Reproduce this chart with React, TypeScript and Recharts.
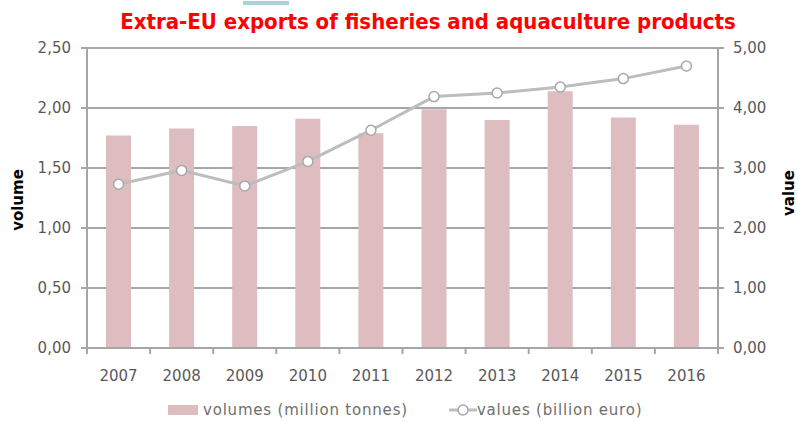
import { ComposedChart, Bar, Line, XAxis, YAxis, CartesianGrid } from 'recharts'

const years = ['2007', '2008', '2009', '2010', '2011', '2012', '2013', '2014', '2015', '2016']
const volumes = [1.77, 1.83, 1.85, 1.91, 1.79, 1.99, 1.9, 2.14, 1.92, 1.86]
const values = [2.73, 2.96, 2.7, 3.11, 3.63, 4.19, 4.25, 4.35, 4.49, 4.7]
const volumeTicks = [0, 0.5, 1, 1.5, 2, 2.5]
const valueTicks = [0, 1, 2, 3, 4, 5]

const data = years.map((year, i) => ({ year, volume: volumes[i], value: values[i] }))

const fmt = (v: number) => v.toFixed(2).replace('.', ',')
const tickFont = { fontSize: 15, fill: '#595959', fontFamily: 'DejaVu Sans' }
const gridGrey = '#a6a6a6'
const barColor = '#ddbdc0'
const lineColor = '#bdbdbd'

// year label plus a tick mark on the left edge of each category band
function YearTick(props: any) {
  const { x, y, payload, index } = props
  const half = payload.offset ?? 0
  return (
    <g>
      <line x1={x - half} y1={y} x2={x - half} y2={y + 6} stroke={gridGrey} strokeWidth={2} />
      {index === years.length - 1 && (
        <line x1={x + half} y1={y} x2={x + half} y2={y + 6} stroke={gridGrey} strokeWidth={2} />
      )}
      <text x={x} y={y + 33} textAnchor="middle" {...tickFont}>{payload.value}</text>
    </g>
  )
}

export default function App() {
  return (
    <div style={{ position: 'absolute', left: 0, top: 0, width: 798, height: 423, background: '#fff', fontFamily: 'DejaVu Sans' }}>
      <div style={{ position: 'absolute', left: 243, top: 1, width: 46, height: 4, background: '#a9d2dc' }} />
      <div
        style={{
          position: 'absolute', top: 9, left: 58, width: 740, textAlign: 'center',
          color: '#ff0000', fontSize: 22, fontWeight: 'bold', fontFamily: 'DejaVu Sans Condensed',
        }}
      >
        Extra-EU exports of fisheries and aquaculture products
      </div>

      <ComposedChart width={798} height={423} data={data} margin={{ top: 48, right: 20, left: 5, bottom: 35 }}>
        <CartesianGrid yAxisId="left" vertical={false} stroke={gridGrey} strokeWidth={2} />
        <XAxis
          dataKey="year" height={40} tickSize={0} tickMargin={0} tickLine={false} interval={0}
          axisLine={{ stroke: gridGrey, strokeWidth: 2 }} tick={<YearTick />}
        />
        <YAxis
          yAxisId="left" width={82} domain={[0, 2.5]} ticks={volumeTicks} tickFormatter={fmt} tick={tickFont} tickMargin={10}
          axisLine={{ stroke: gridGrey, strokeWidth: 2 }} tickLine={{ stroke: gridGrey, strokeWidth: 2 }}
        />
        <YAxis
          yAxisId="right" orientation="right" width={60} domain={[0, 5]} ticks={valueTicks} tickFormatter={fmt} tick={tickFont} tickMargin={9}
          axisLine={{ stroke: gridGrey, strokeWidth: 2 }} tickLine={{ stroke: gridGrey, strokeWidth: 2 }}
        />
        <Bar yAxisId="left" dataKey="volume" fill={barColor} barSize={25} isAnimationActive={false} />
        <Line
          yAxisId="right" dataKey="value" stroke={lineColor} strokeWidth={3}
          dot={{ r: 5, fill: '#fff', stroke: '#a8a8a8', strokeWidth: 1.5 }} isAnimationActive={false}
        />
      </ComposedChart>

      <div style={{ position: 'absolute', left: 18, top: 200, transform: 'translate(-50%, -50%) rotate(-90deg)', fontSize: 15, fontWeight: 'bold', color: '#000' }}>
        volume
      </div>
      <div style={{ position: 'absolute', left: 789, top: 193, transform: 'translate(-50%, -50%) rotate(-90deg)', fontSize: 15, fontWeight: 'bold', color: '#000' }}>
        value
      </div>

      <div style={{ position: 'absolute', top: 400, left: 168, height: 20, display: 'flex', alignItems: 'center', fontSize: 15, letterSpacing: 0.8, color: '#6f6f6f' }}>
        <span style={{ display: 'inline-block', width: 30, height: 10, background: barColor, marginRight: 5 }} />
        <span>volumes (million tonnes)</span>
        <svg width={28} height={12} style={{ marginLeft: 41 }}>
          <line x1={0} y1={6} x2={28} y2={6} stroke={lineColor} strokeWidth={3} />
          <circle cx={14} cy={6} r={5} fill="#fff" stroke="#a8a8a8" strokeWidth={1.5} />
        </svg>
        <span>values (billion euro)</span>
      </div>
    </div>
  )
}
